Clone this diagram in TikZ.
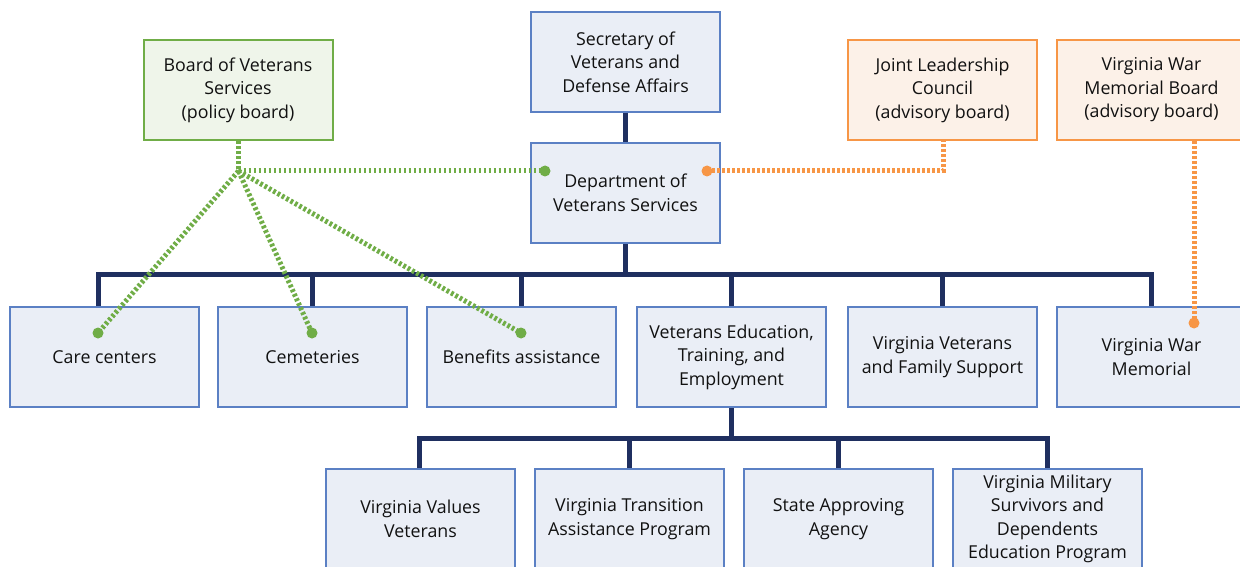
\documentclass[tikz,border=0pt]{standalone}
\usepackage{fontspec}
\setmainfont{Open Sans}
\definecolor{bblue}{HTML}{5B80C4}
\definecolor{fblue}{HTML}{EAEEF6}
\definecolor{bgreen}{HTML}{70AD47}
\definecolor{fgreen}{HTML}{EFF5EA}
\definecolor{borange}{HTML}{F79646}
\definecolor{forange}{HTML}{FCF1E8}
\definecolor{navy}{HTML}{1F2F60}
\definecolor{txt}{HTML}{111111}
\begin{document}
\begin{tikzpicture}[x=1pt,y=-1pt,
  box/.style={draw=bblue,fill=fblue,line width=2pt,minimum width=189pt,minimum height=100pt,
    align=center,inner sep=0pt,text=txt,font=\fontsize{17.8}{23.5}\selectfont},
  gbox/.style={box,draw=bgreen,fill=fgreen},
  obox/.style={box,draw=borange,fill=forange},
  navyline/.style={draw=navy,line width=5pt,line join=miter},
  gline/.style={draw=bgreen,line width=5pt,dash pattern=on 2.8pt off 2.2pt},
  oline/.style={draw=borange,line width=5pt,dash pattern=on 2.8pt off 2.2pt},
  gdot/.style={fill=bgreen},
  odot/.style={fill=borange}]
\useasboundingbox (0,0) rectangle (1240,567);
% top boxes
\node[gbox] (bvs) at (238,90) {Board of Veterans\\Services\\(policy board)};
\node[box] (sec) at (625.5,62) {Secretary of\\Veterans and\\Defense Affairs};
\node[box] (dvs) at (625.5,193) {Department of\\Veterans Services};
\node[obox] (jlc) at (942.5,90) {Joint Leadership\\Council\\(advisory board)};
\node[obox] (wmb) at (1151.5,90) {Virginia War\\Memorial Board\\(advisory board)};
% middle row
\node[box] (care) at (104.5,357) {Care centers};
\node[box] (cem) at (312.5,357) {Cemeteries};
\node[box] (ben) at (521.5,357) {Benefits assistance};
\node[box] (vete) at (731.5,357) {Veterans Education,\\Training, and\\Employment};
\node[box] (vvfs) at (942.5,357) {Virginia Veterans\\and Family Support};
\node[box] (vwm) at (1151.5,357) {Virginia War\\Memorial};
% bottom row
\node[box] (vvv) at (420.5,519) {Virginia Values\\Veterans};
\node[box] (vtap) at (629.5,519) {Virginia Transition\\Assistance Program};
\node[box] (saa) at (838.5,519) {State Approving\\Agency};
\node[box] (vms) at (1047.5,519) {Virginia Military\\Survivors and\\Dependents\\Education Program};
% navy hierarchy
\draw[navyline] (sec.south) -- (dvs.north);
\coordinate (busL) at (98,274);
\coordinate (busR) at (1151.5,274);
\draw[navyline] (dvs.south) -- (dvs.south |- busL);
\draw[navyline] (care.north -| busL) -- (busL) -- (busR) -- (vwm.north);
\draw[navyline] (cem.north) -- (cem.north |- busL);
\draw[navyline] (ben.north) -- (ben.north |- busL);
\draw[navyline] (vete.north) -- (vete.north |- busL);
\draw[navyline] (vvfs.north) -- (vvfs.north |- busL);
\coordinate (bus2L) at (419,438);
\coordinate (bus2R) at (1047.5,438);
\draw[navyline] (vete.south) -- (vete.south |- bus2L);
\draw[navyline] (vvv.north -| bus2L) -- (bus2L) -- (bus2R) -- (vms.north);
\draw[navyline] (vtap.north) -- (vtap.north |- bus2L);
\draw[navyline] (saa.north) -- (saa.north |- bus2L);
% green policy links
\coordinate (g0) at (238.5,171);
\coordinate (gd) at (545,171);
\coordinate (gc) at (98,333);
\coordinate (ge) at (312,333);
\coordinate (gb) at (521,333);
\draw[gline] (bvs.south -| g0) -- (g0) -- (gd);
\draw[gline] (g0) -- (gc);
\draw[gline] (g0) -- (ge);
\draw[gline] (g0) -- (gb);
\fill[gdot] (gd) circle (5.5);
\fill[gdot] (gc) circle (5.5);
\fill[gdot] (ge) circle (5.5);
\fill[gdot] (gb) circle (5.5);
% orange advisory links
\coordinate (od) at (707,171);
\coordinate (oc) at (943,171);
\coordinate (ow) at (1194,323);
\draw[oline] (od) -- (oc) -- (jlc.south -| oc);
\draw[oline] (wmb.south -| ow) -- (ow);
\fill[odot] (od) circle (5.5);
\fill[odot] (ow) circle (5.5);
\end{tikzpicture}
\end{document}
